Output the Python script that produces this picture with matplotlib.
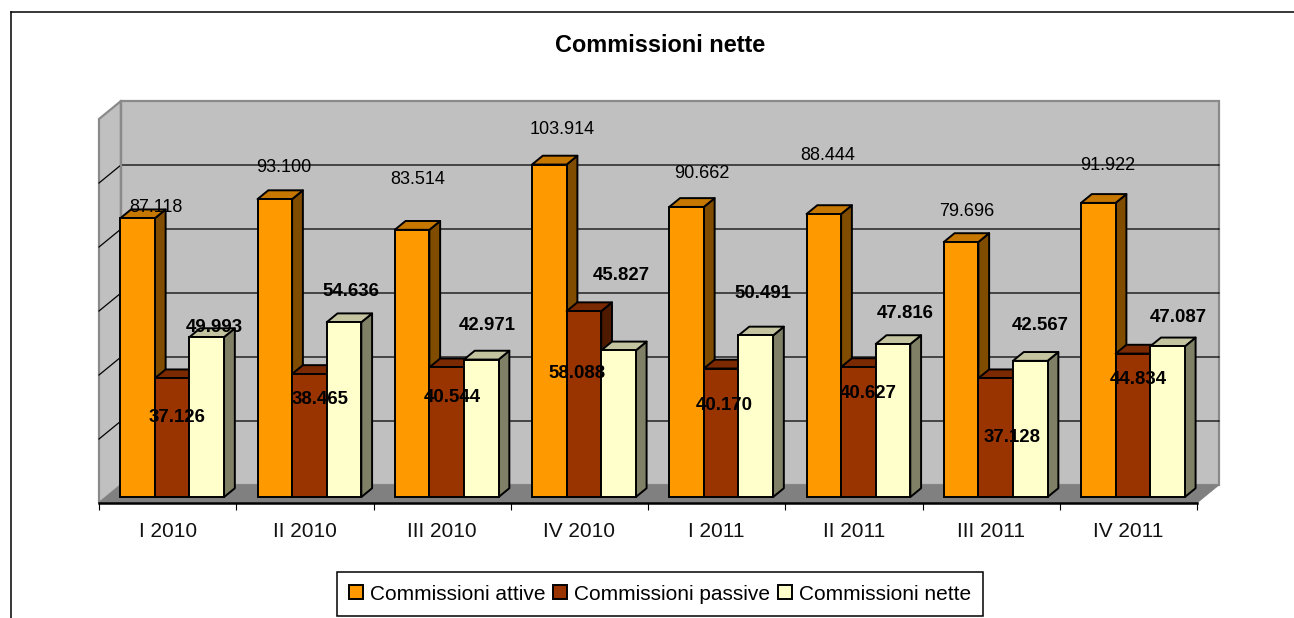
import matplotlib
matplotlib.use('Agg')
import matplotlib.pyplot as plt
from matplotlib.lines import Line2D
from matplotlib.patches import Patch

plt.rcParams['font.family'] = ['Liberation Sans', 'DejaVu Sans']

W, H = 1294, 618

categories = ['I 2010', 'II 2010', 'III 2010', 'IV 2010', 'I 2011', 'II 2011', 'III 2011', 'IV 2011']
attive = [87118, 93100, 83514, 103914, 90662, 88444, 79696, 91922]
passive = [37126, 38465, 40544, 58088, 40170, 40627, 37128, 44834]
nette = [49993, 54636, 42971, 45827, 50491, 47816, 42567, 47087]

series_names = ['Commissioni attive', 'Commissioni passive', 'Commissioni nette']
series_values = [attive, passive, nette]
# front, side, top
series_colors = [('#FF9900', '#7F4C00', '#C67700'),
                 ('#993300', '#4D1A00', '#7A2900'),
                 ('#FFFFCC', '#808066', '#C4C4A0')]

# label centres in pixels, the labels were moved by hand in the original
attive_xy = [(156, 207), (284, 167), (418, 179), (562, 128), (702, 173), (828, 155), (967, 211), (1108, 165)]
passive_xy = [(177, 416), (320, 399), (452, 396), (577, 372), (724, 405), (868, 393), (1012, 436), (1138, 379)]
nette_xy = [(214, 327), (351, 290), (487, 325), (621, 275), (763, 293), (905, 313), (1040, 324), (1178, 316)]
label_xy = [attive_xy, passive_xy, nette_xy]

fig = plt.figure(figsize=(W / 100, H / 100), dpi=100)

# the axes is the front plane of the 3D box
ax = fig.add_axes([99 / W, (H - 503) / H, (1197 - 99) / W, 384 / H])
ax.set_xlim(0, 8)
ax.set_ylim(0, 120000)
ax.patch.set_alpha(0)

# depth of the box in data units
DX = 22 * 8 / (1197 - 99)
DY = 18 * 120000 / 384
D0, D1 = 0.33, 0.82
BAR_W = 34.6 * 8 / (1197 - 99)
BAR_OFF = 14 * 8 / (1197 - 99)

WALL = '#C0C0C0'
BORDER = '#8A8A8A'

# walls and floor
ax.fill([0, DX, DX, 0], [0, DY, 120000 + DY, 120000], fc=WALL, ec=BORDER, lw=1.6, clip_on=False, zorder=1)
ax.fill([DX, 8 + DX, 8 + DX, DX], [DY, DY, 120000 + DY, 120000 + DY], fc=WALL, ec=BORDER, lw=1.6, clip_on=False, zorder=1)
ax.fill([0, 8, 8 + DX, DX], [0, 0, DY, DY], fc='#808080', ec='#808080', lw=0.5, clip_on=False, zorder=2)

# gridlines on both walls
for v in range(20000, 120000, 20000):
    ax.plot([0, DX, 8 + DX], [v, v + DY, v + DY], color='black', lw=0.9, clip_on=False, zorder=3)
ax.plot([DX, DX], [DY, 120000 + DY], color=BORDER, lw=1.6, clip_on=False, zorder=3)

# bars, left to right so that the next bar hides the side of the one before
z = 4
for c in range(len(categories)):
    for s, values in enumerate(series_values):
        v = values[c]
        front, side, top = series_colors[s]
        x0 = c + BAR_OFF + s * BAR_W + D0 * DX
        x1 = x0 + BAR_W
        y0 = D0 * DY
        dx = (D1 - D0) * DX
        dy = (D1 - D0) * DY
        ax.fill([x1, x1 + dx, x1 + dx, x1], [y0, y0 + dy, y0 + dy + v, y0 + v],
                fc=side, ec='black', lw=1.4, clip_on=False, zorder=z, joinstyle='round')
        ax.fill([x0, x1, x1 + dx, x0 + dx], [y0 + v, y0 + v, y0 + v + dy, y0 + v + dy],
                fc=top, ec='black', lw=1.4, clip_on=False, zorder=z, joinstyle='round')
        ax.bar(x0, v, width=BAR_W, bottom=y0, align='edge', color=front, edgecolor='black',
               linewidth=1.4, zorder=z + 0.5)
        z += 1

# axis line, ticks, category labels between the ticks
for name in ['top', 'left', 'right']:
    ax.spines[name].set_visible(False)
ax.spines['bottom'].set_linewidth(1.8)
ax.spines['bottom'].set_zorder(z)
ax.set_yticks([])
ax.set_xticks(range(9))
ax.set_xticklabels([])
ax.set_xticks([i + 0.5 for i in range(8)], minor=True)
ax.set_xticklabels(categories, minor=True, fontsize=15, color='#111111')
ax.tick_params(axis='x', which='major', length=5, width=0.8, direction='out')
ax.tick_params(axis='x', which='minor', length=0, pad=13.5)

# data labels, 1st series regular, the others bold
for s, values in enumerate(series_values):
    for v, (px, py) in zip(values, label_xy[s]):
        ax.text(px / W, 1 - (py + 1) / H, f'{v:,}'.replace(',', '.'), transform=fig.transFigure,
                ha='center', va='center', fontsize=13 if s == 0 else 13.4, color='black',
                fontweight='normal' if s == 0 else 'bold', zorder=z + 1, clip_on=False)

fig.text(660 / W, 1 - 46 / H, 'Commissioni nette', ha='center', va='center', fontsize=16.9, fontweight='bold')

# chart area border, the picture is cut off at right and bottom
fig.add_artist(Line2D([10.5 / W, 10.5 / W], [0, 1 - 11.5 / H], color='black', lw=1.1))
fig.add_artist(Line2D([10.5 / W, 1], [1 - 11.5 / H, 1 - 11.5 / H], color='black', lw=1.1))

handles = [Patch(fc=series_colors[i][0], ec='black', lw=1.4, label=series_names[i]) for i in range(3)]
leg = fig.legend(handles=handles, ncol=3, loc='center', bbox_to_anchor=(660 / W, 1 - 594 / H), fontsize=15,
                 fancybox=False, framealpha=1, edgecolor='black', handlelength=0.68, handleheight=0.68,
                 handletextpad=0.33, columnspacing=0.36, borderpad=0.58, borderaxespad=0)
leg.get_frame().set_linewidth(1.1)

fig.savefig('out.png', dpi=100)
